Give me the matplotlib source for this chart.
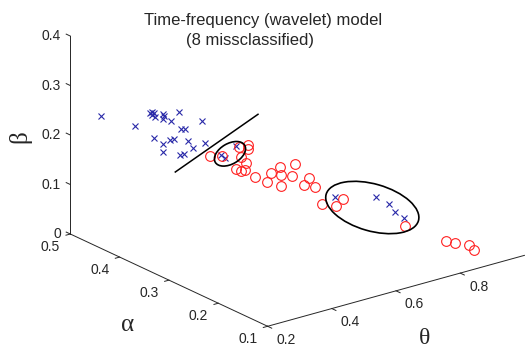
import matplotlib
matplotlib.use('Agg')
import matplotlib.pyplot as plt
from matplotlib.patches import Ellipse
from matplotlib.lines import Line2D
from matplotlib.transforms import IdentityTransform
from mpl_toolkits.mplot3d import proj3d

# correctly / wrongly classified recordings (relative band power)
blue_theta = [0.282, 0.330, 0.322, 0.322, 0.326, 0.327, 0.332, 0.335, 0.343, 0.340, 0.354,
              0.347, 0.383, 0.377, 0.382, 0.367, 0.386, 0.386, 0.389, 0.405, 0.423, 0.401,
              0.422, 0.425, 0.422, 0.459, 0.468, 0.458, 0.638, 0.677, 0.701, 0.720, 0.738]
blue_alpha = [0.491, 0.454, 0.417, 0.413, 0.412, 0.418, 0.415, 0.399, 0.406, 0.401, 0.397,
              0.375, 0.353, 0.391, 0.386, 0.440, 0.434, 0.419, 0.412, 0.395, 0.373, 0.443,
              0.423, 0.415, 0.396, 0.363, 0.361, 0.331, 0.248, 0.190, 0.179, 0.180, 0.174]
blue_beta = [0.227, 0.216, 0.261, 0.265, 0.262, 0.255, 0.253, 0.266, 0.251, 0.259, 0.249,
             0.278, 0.264, 0.232, 0.232, 0.193, 0.180, 0.195, 0.199, 0.200, 0.204, 0.156,
             0.155, 0.160, 0.182, 0.178, 0.171, 0.211, 0.114, 0.133, 0.120, 0.100, 0.088]

red_theta = [0.451, 0.462, 0.463, 0.468, 0.475, 0.482, 0.497, 0.498, 0.505, 0.508, 0.528,
             0.550, 0.537, 0.535, 0.550, 0.568, 0.562, 0.543, 0.588, 0.582, 0.603, 0.637,
             0.655, 0.649, 0.753, 0.818, 0.828, 0.845, 0.858]
red_alpha = [0.381, 0.363, 0.330, 0.314, 0.318, 0.338, 0.338, 0.357, 0.353, 0.347, 0.340,
             0.328, 0.312, 0.293, 0.300, 0.313, 0.287, 0.268, 0.278, 0.264, 0.266, 0.275,
             0.257, 0.240, 0.181, 0.140, 0.129, 0.111, 0.109]
red_beta = [0.168, 0.175, 0.207, 0.218, 0.207, 0.180, 0.165, 0.145, 0.142, 0.145, 0.132,
            0.122, 0.151, 0.172, 0.150, 0.119, 0.151, 0.189, 0.134, 0.154, 0.131, 0.088,
            0.088, 0.111, 0.066, 0.042, 0.043, 0.044, 0.033]

theta_ticks = [0.2, 0.4, 0.6, 0.8]
alpha_ticks = [0.1, 0.2, 0.3, 0.4, 0.5]
beta_ticks = [0, 0.1, 0.2, 0.3, 0.4]

W, H = 525, 350
axcol = '#262626'
fig = plt.figure(figsize=(W / 100, H / 100), dpi=100)
side = 300
ax = fig.add_axes([0.1, 0.05, side / W, side / H], projection='3d', proj_type='ortho')
ax.set_xlim(0.2, 1.0)
ax.set_ylim(0.1, 0.5)
ax.set_zlim(0, 0.4)
ax.set_box_aspect((1, 1, 0.655))
ax.view_init(elev=21.06, azim=-127.54)
ax.set_axis_off()


def to_px(x, y, z):
    xs, ys, _ = proj3d.proj_transform(x, y, z, ax.get_proj())
    return ax.transData.transform((xs, ys))


# fit the projected box onto the reference pixel positions
fig.canvas.draw()
p0 = to_px(0.2, 0.5, 0.0)
p1 = to_px(0.8, 0.1, 0.0)
t0 = (70.3, H - 234.0)
t1 = (460.2, H - 273.3)
k = ((t1[0] - t0[0]) ** 2 + (t1[1] - t0[1]) ** 2) ** 0.5 / ((p1[0] - p0[0]) ** 2 + (p1[1] - p0[1]) ** 2) ** 0.5
bb = ax.get_position()
cx, cy = (bb.x0 + bb.width / 2) * W, (bb.y0 + bb.height / 2) * H
ncx = t0[0] - k * (p0[0] - cx)
ncy = t0[1] - k * (p0[1] - cy)
nside = side * k
ax.set_position([(ncx - nside / 2) / W, (ncy - nside / 2) / H, nside / W, nside / H])
fig.canvas.draw()

# axes lines and ticks
ax.plot([0.2, 0.2], [0.5, 0.5], [0, 0.4], color=axcol, lw=0.7)
ax.plot([0.2, 0.2], [0.5, 0.1], [0, 0], color=axcol, lw=0.7)
ax.plot([0.2, 1.0], [0.1, 0.1], [0, 0], color=axcol, lw=0.7)
tick_font = dict(fontsize=10, color=axcol, family='Liberation Sans')
for z in beta_ticks:
    ax.plot([0.2, 0.2], [0.5, 0.5083], [z, z], color=axcol, lw=0.7)
    px, py = to_px(0.2, 0.5, z)
    fig.text((px - 9.5) / W, py / H, '0' if z == 0 else '%g' % z, ha='right', va='center', **tick_font)
for a in alpha_ticks:
    ax.plot([0.2, 0.1865], [a, a], [0, 0], color=axcol, lw=0.7)
    px, py = to_px(0.2, a, 0)
    fig.text((px - 20) / W, (py - 13) / H, '%g' % a, ha='center', va='center', **tick_font)
for t in theta_ticks:
    ax.plot([t, t], [0.1, 0.0917], [0, 0], color=axcol, lw=0.7)
    px, py = to_px(t, 0.1, 0)
    fig.text((px + 18.5) / W, (py - 13.5) / H, '%g' % t, ha='center', va='center', **tick_font)

ax.plot(blue_theta, blue_alpha, blue_beta, linestyle='none', marker='x', ms=4.8,
        mew=0.8, color='#2828a8')
ax.plot(red_theta, red_alpha, red_beta, linestyle='none', marker='o', ms=7,
        mew=0.8, mfc='none', mec='#ff2020')

# axis titles
fig.text(20 / W, 1 - 137 / H, 'β', rotation=90, ha='center', va='center',
         fontsize=18, family='Liberation Serif', color=axcol)
fig.text(128 / W, 1 - 325 / H, 'α', ha='center', va='center',
         fontsize=18, family='Liberation Serif', color=axcol)
fig.text(424.5 / W, 1 - 349 / H, 'θ', ha='center', va='bottom',
         fontsize=17, family='Liberation Serif', color=axcol)

fig.text(263 / W, 1 - 20 / H, 'Time-frequency (wavelet) model', ha='center', va='center',
         fontsize=12, family='Liberation Sans', color='#262626')
fig.text(249.6 / W, 1 - 40 / H, '(8 missclassified)', ha='center', va='center',
         fontsize=12, family='Liberation Sans', color='#262626')

# hand drawn annotations: boundary line and the circled errors
ident = IdentityTransform()
fig.lines.append(Line2D([175.3, 258.0], [H - 172.0, H - 114.3], color='black', lw=1.1,
                        transform=ident))
fig.patches.append(Ellipse((230.0, H - 153.8), 34, 20.5, angle=30, fill=False,
                           ec='black', lw=1.2, transform=ident))
fig.patches.append(Ellipse((372.3, H - 207.5), 96, 47, angle=-16, fill=False,
                           ec='black', lw=1.2, transform=ident))

fig.savefig('out.png', dpi=100)
